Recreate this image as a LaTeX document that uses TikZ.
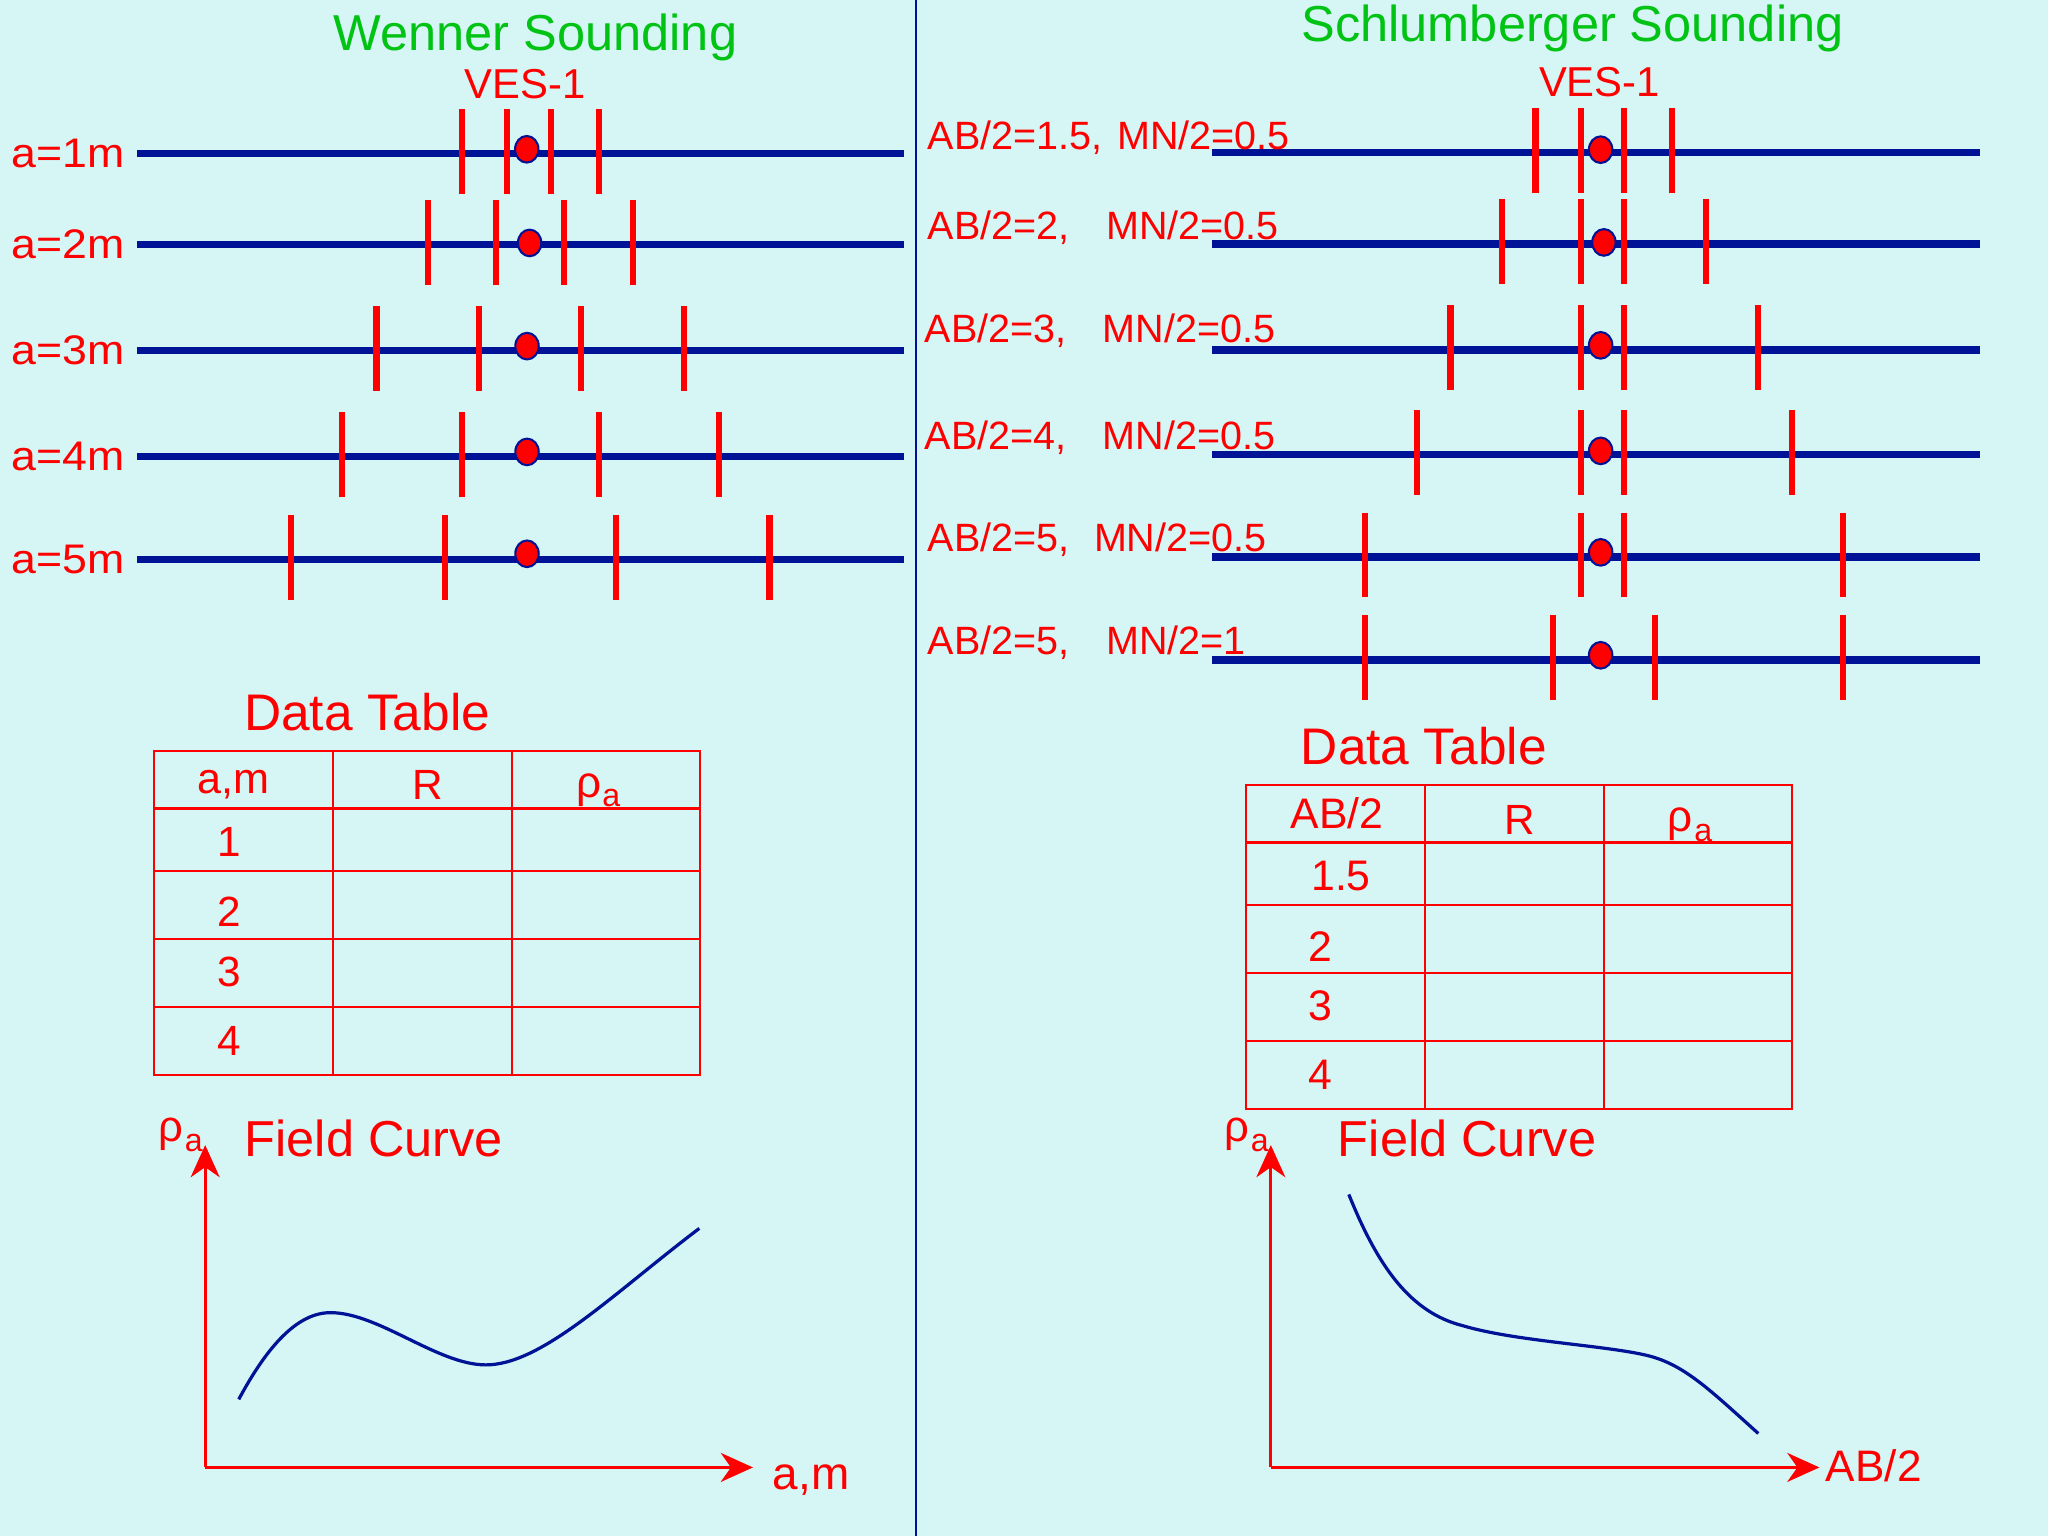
\documentclass[tikz,border=0pt]{standalone}
\usepackage{fontspec}
\setmainfont{Liberation Sans}
\newfontfamily\widefont[FakeStretch=1.08]{Liberation Sans}
\usetikzlibrary{arrows.meta,shapes.geometric}
\definecolor{bgc}{RGB}{214,245,245}
\definecolor{navy}{RGB}{0,18,150}
\definecolor{myred}{RGB}{255,0,0}
\definecolor{mygreen}{RGB}{0,195,20}
\newcommand\fsz[1]{\fontsize{#1pt}{#1pt}\selectfont}
\newcommand\rhoa[2]{ρ\kern0.3pt\raisebox{-#2pt}{\fsz{#1}a}}
\begin{document}
\begin{tikzpicture}[x=0.01cm,y=-0.01cm,
 txt/.style={inner sep=0pt,outer sep=0pt,text=myred},
 ttl/.style={txt,text=mygreen,font=\fsz{11},anchor=base},
 cable/.style={draw=navy,line width=1.6pt},
 elec/.style={draw=myred,line width=1.35pt},
 potdot/.style={ellipse,draw=navy,fill=myred,line width=0.45pt,minimum width=5.1pt,minimum height=5.8pt,inner sep=0pt},
 grid/.style={draw=myred,line width=0.5pt},
 axis/.style={draw=myred,line width=0.6pt,-{Stealth[length=7pt,width=6.3pt,inset=2.2pt]}},
 curve/.style={draw=navy,line width=0.7pt},
 divider/.style={draw=navy,line width=0.45pt}]

\fill[bgc] (0,0) rectangle (1568,1176);
\useasboundingbox (0,0) rectangle (1568,1176);

% divider
\coordinate (dT) at (701,0);
\coordinate (dB) at (701,1176);
\draw[divider] (dT) -- (dB);

% titles
\node[ttl] (wTitle) at (410,38.3) {Wenner Sounding};
\node[txt,anchor=base,font=\fsz{9.1}] (wVes) at (402,75.3) {VES-1};
\node[ttl] (sTitle) at (1204,31.6) {Schlumberger Sounding};
\node[txt,anchor=base,font=\fsz{9.1}] (sVes) at (1224.6,73.8) {VES-1};

% Wenner rows
\foreach \rw/\y/\a/\b/\c/\d/\dx/\dy in {1/117.5/353.5/388/421.6/458.4/403.3/114.3, 2/187.3/327.4/379.7/431.9/484.6/405.5/186, 3/268.5/288.3/367/445/523.8/403.5/265, 4/349.5/261.7/353.6/458.5/550.4/403.5/346, 5/428.5/222.5/340.5/471.6/589.1/403.5/424}{
 \coordinate (wL\rw) at (105,\y);
 \coordinate (wR\rw) at (692,\y);
 \draw[cable] (wL\rw) -- (wR\rw);
 \foreach \x in {\a,\b,\c,\d} \draw[elec] (\x,\y-34) -- (\x,\y+31);
 \node[potdot] (wD\rw) at (\dx,\dy) {};
 \node[txt,anchor=base west,font=\widefont\fsz{9}] (wA\rw) at (9,\y+10.5) {a=\rw m};
}

% Schlumberger rows
\foreach \rw/\y/\a/\b/\c/\d/\dx/\dy in {1/117/1175.6/1210.4/1243.5/1280.4/1225.5/114.6, 2/186.7/1149.8/1210.4/1243.5/1306.2/1228/185.6, 3/267.9/1110.6/1210.4/1243.5/1346/1225.5/264.4, 4/348/1084.8/1210.4/1243.5/1371.8/1225.5/345.2, 5/426.4/1045/1210.4/1243.5/1411/1225.5/422.9, 6/505.2/1045/1189/1267/1411/1225.5/501.7}{
 \coordinate (sL\rw) at (928,\y);
 \coordinate (sR\rw) at (1516,\y);
 \draw[cable] (sL\rw) -- (sR\rw);
 \foreach \x in {\a,\b,\c,\d} \draw[elec] (\x,\y-34) -- (\x,\y+31);
 \node[potdot] (sD\rw) at (\dx,\dy) {};
}
\foreach \rw/\y/\ax/\mx/\ab/\mn in {1/114.3/710.4/855.5/1.5/0.5, 2/183.5/710.4/847/2/0.5, 3/261.9/708/844.4/3/0.5, 4/344.5/708/844.4/4/0.5, 5/422.6/710.4/837.6/5/0.5, 6/501/710.4/847/5/1}{
 \node[txt,anchor=base west,font=\fsz{8.6}] (sA\rw) at (\ax,\y) {AB/2=\ab,};
 \node[txt,anchor=base west,font=\fsz{8.6}] (sM\rw) at (\mx,\y) {MN/2=\mn};
}

% Wenner data table
\node[txt,anchor=base west,font=\fsz{11.2}] (wDT) at (187,559) {Data Table};
\draw[grid] (118,575) rectangle (536,823);
\foreach \x in {255,392} \draw[grid] (\x,575) -- (\x,823);
\foreach \y in {619,667,719,771} \draw[grid] (118,\y) -- (536,\y);
\node[txt,anchor=base,font=\fsz{9.4}] (wH1) at (179,607.4) {a,m};
\node[txt,anchor=base,font=\fsz{9.2}] (wH2) at (327.5,612) {R};
\node[txt,anchor=base west,font=\fsz{9.6}] (wH3) at (441,610.5) {\rhoa{7}{2}};
\node[txt,anchor=base,font=\fsz{9.2}] (wC1) at (175.3,655.4) {1};
\node[txt,anchor=base,font=\fsz{9.2}] (wC2) at (175.3,709.5) {2};
\node[txt,anchor=base,font=\fsz{9.2}] (wC3) at (175.3,755) {3};
\node[txt,anchor=base,font=\fsz{9.2}] (wC4) at (175.3,807.8) {4};

% Schlumberger data table
\node[txt,anchor=base west,font=\fsz{11.2}] (sDT) at (996,585) {Data Table};
\draw[grid] (954,601) rectangle (1372,849);
\foreach \x in {1091,1228} \draw[grid] (\x,601) -- (\x,849);
\foreach \y in {645,693,745,797} \draw[grid] (954,\y) -- (1372,\y);
\node[txt,anchor=base,font=\fsz{9.3}] (sH1) at (1023.8,634.2) {AB/2};
\node[txt,anchor=base,font=\fsz{9.2}] (sH2) at (1163.3,639) {R};
\node[txt,anchor=base west,font=\fsz{9.6}] (sH3) at (1277,637) {\rhoa{7}{2}};
\node[txt,anchor=base,font=\fsz{9.3}] (sC1) at (1026.7,682) {1.5};
\node[txt,anchor=base,font=\fsz{9.3}] (sC2) at (1011,736.3) {2};
\node[txt,anchor=base,font=\fsz{9.3}] (sC3) at (1011,781) {3};
\node[txt,anchor=base,font=\fsz{9.3}] (sC4) at (1011,834) {4};

% Wenner field curve
\node[txt,anchor=base west,font=\fsz{11}] (wFC) at (187.3,885.6) {Field Curve};
\node[txt,anchor=base west,font=\fsz{9.5}] (wRho) at (121.5,874) {\rhoa{7}{2.2}};
\coordinate (wO) at (157.1,1123.5);
\coordinate (wY) at (157.1,876.7);
\coordinate (wX) at (576.5,1123.5);
\draw[axis] (wO) -- (wY);
\draw[axis] (wO) -- (wX);
\node[txt,anchor=base west,font=\fsz{10}] (wXl) at (591.6,1140.4) {a,m};
\draw[curve] (182.8,1071.4) .. controls (205,1030) and (228,1005) .. (253,1005)
  .. controls (290,1005) and (335,1045) .. (372,1045)
  .. controls (415,1045) and (470,990) .. (535.4,940.5);

% Schlumberger field curve
\node[txt,anchor=base west,font=\fsz{11}] (sFC) at (1024.4,885.6) {Field Curve};
\node[txt,anchor=base west,font=\fsz{9.5}] (sRho) at (937.7,874) {\rhoa{7}{2.2}};
\coordinate (sO) at (973,1123.5);
\coordinate (sY) at (973,876.7);
\coordinate (sX) at (1393,1123.5);
\draw[axis] (sO) -- (sY);
\draw[axis] (sO) -- (sX);
\node[txt,anchor=base west,font=\fsz{9.6}] (sXl) at (1398,1134.5) {AB/2};
\draw[curve] (1032.7,914.5) .. controls (1055,970) and (1080,1005) .. (1120,1015)
  .. controls (1160,1027) and (1230,1030) .. (1262,1038)
  .. controls (1290,1045) and (1310,1065) .. (1346.2,1097.5);
\end{tikzpicture}
\end{document}
